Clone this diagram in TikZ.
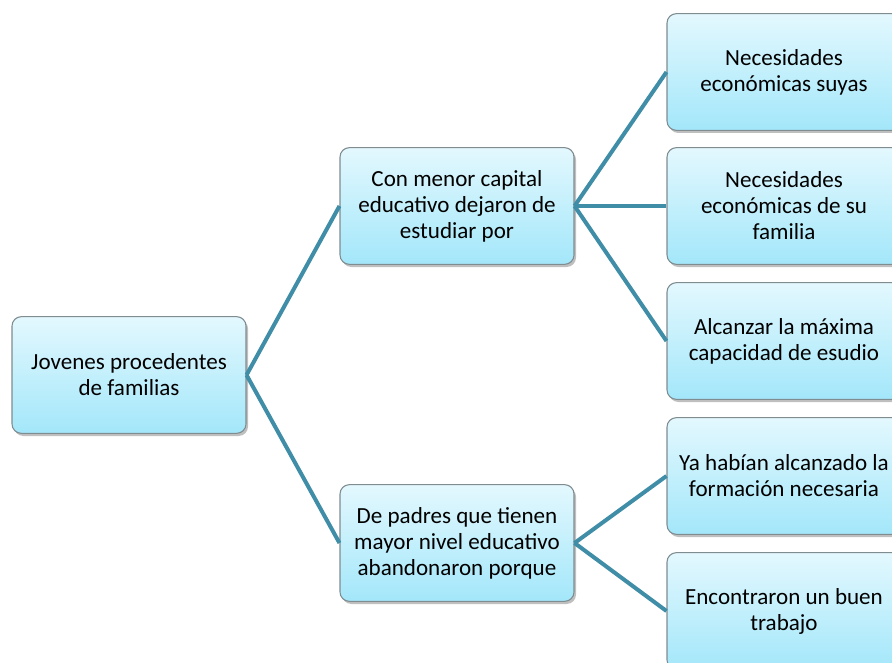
\documentclass[tikz,border=0pt]{standalone}
\usepackage{fontspec}
\setmainfont{Carlito}
\usetikzlibrary{shadows}
\definecolor{boxtop}{HTML}{E3F8FE}
\definecolor{boxbot}{HTML}{A3E7FA}
\definecolor{boxline}{HTML}{7F8C90}
\definecolor{conn}{HTML}{3F8DA6}
\tikzset{
  box/.style={rectangle, rounded corners=7pt, draw=boxline, line width=0.8pt,
    top color=boxtop, bottom color=boxbot,
    minimum width=175.5pt, minimum height=87.5pt, align=center,
    font=\fontsize{17.3}{19.5}\selectfont, inner xsep=0pt, inner ysep=2pt,
    drop shadow={shadow xshift=1.5pt, shadow yshift=-2pt, fill=black, opacity=0.25}},
  link/.style={draw=conn, line width=3pt}
}
\begin{document}
\begin{tikzpicture}[x=0.75pt,y=-0.75pt]
\useasboundingbox (0,0) rectangle (892,663);
\node[box] (root) at (129,375) {Jovenes procedentes\\de familias};
\node[box] (m1) at (457,206) {Con menor capital\\educativo dejaron de\\estudiar por};
\node[box] (m2) at (457,543) {De padres que tienen\\mayor nivel educativo\\abandonaron porque};
\node[box] (r1) at (784,72) {Necesidades\\económicas suyas};
\node[box] (r2) at (784,206) {Necesidades\\económicas de su\\familia};
\node[box] (r3) at (784,341) {Alcanzar la máxima\\capacidad de esudio};
\node[box] (r4) at (784,476) {Ya habían alcanzado la\\formación necesaria};
\node[box] (r5) at (784,611) {Encontraron un buen\\trabajo};
\draw[link] (root.east) -- (m1.west);
\draw[link] (root.east) -- (m2.west);
\draw[link] (m1.east) -- (r1.west);
\draw[link] (m1.east) -- (r2.west);
\draw[link] (m1.east) -- (r3.west);
\draw[link] (m2.east) -- (r4.west);
\draw[link] (m2.east) -- (r5.west);
\end{tikzpicture}
\end{document}
